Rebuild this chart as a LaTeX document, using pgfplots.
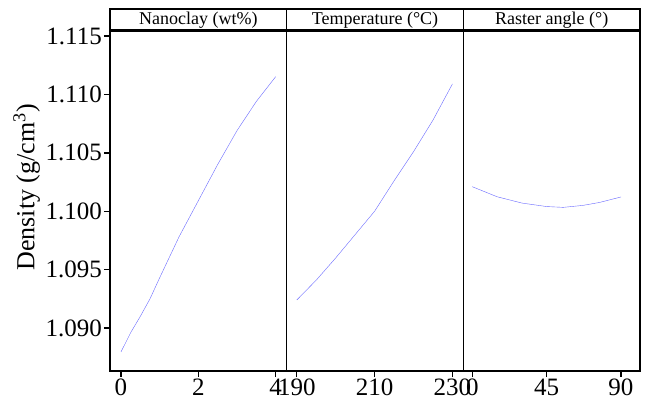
\documentclass[border=0pt]{standalone}
\usepackage{pgfplots}
\pgfplotsset{compat=1.18}
\usepackage{fontspec}
\setmainfont{Liberation Serif}
\definecolor{curve}{RGB}{105,105,255}
\pgfplotsset{panel/.style={
  scale only axis, width=176.67pt, height=340pt,
  ymin=1.08632, ymax=1.11543,
  axis line style={line width=1.6pt},
  tick style={line width=1.4pt, black},
  tick align=outside, major tick length=6pt,
  xtick pos=bottom, ytick pos=left,
  ticklabel style={font=\fontsize{25}{28}\selectfont, inner sep=2pt},
  /pgf/number format/assume math mode=true,
  every axis title shift=0pt,
  title style={draw, line width=1.6pt, minimum width=176.67pt, minimum height=21pt,
    inner sep=0pt, anchor=south, at={(0.5,1)}, yshift=0pt, font=\fontsize{18}{21}\selectfont},
  cycle list={{curve, line width=0.9pt, mark=none}},
}}
\begin{document}
\begin{tikzpicture}
\path (-110pt,-29pt) rectangle (536pt,371pt);
\begin{axis}[panel, at={(0pt,0pt)}, xmin=-0.284, xmax=4.284, xtick={0,2,4},
  ytick={1.090,1.095,1.100,1.105,1.110,1.115},
  yticklabel style={/pgf/number format/.cd, fixed, fixed zerofill, precision=3},
  ylabel={Density (g/cm\textsuperscript{3})},
  ylabel style={font=\fontsize{26}{30}\selectfont, at={(ticklabel cs:0.54)}},
  title={Nanoclay (wt\%)}]
\addplot coordinates {(0,1.08795)(0.25,1.0896)(0.5,1.0910)(0.75,1.0925)(1,1.0943)
  (1.5,1.0978)(2,1.1009)(2.5,1.1040)(3,1.1069)(3.5,1.1094)(4,1.11152)};
\end{axis}
\begin{axis}[panel, at={(176.67pt,0pt)}, xmin=187.4, xmax=232.8, xtick={190,210,230},
  ytick=\empty, title={Temperature (°C)}]
\addplot coordinates {(190,1.0924)(195,1.0941)(200,1.0960)(205,1.0980)(210,1.1000)
  (215,1.1026)(220,1.1051)(225,1.1078)(230,1.1109)};
\end{axis}
\begin{axis}[panel, at={(353.33pt,0pt)}, xmin=-5.4, xmax=101.5, xtick={0,45,90},
  ytick=\empty, title={Raster angle (°)}]
\addplot coordinates {(0,1.1021)(15,1.10124)(30,1.1007)(45,1.10040)(55,1.10033)
  (67,1.10050)(77,1.10075)(90,1.10122)};
\end{axis}
\end{tikzpicture}
\end{document}
